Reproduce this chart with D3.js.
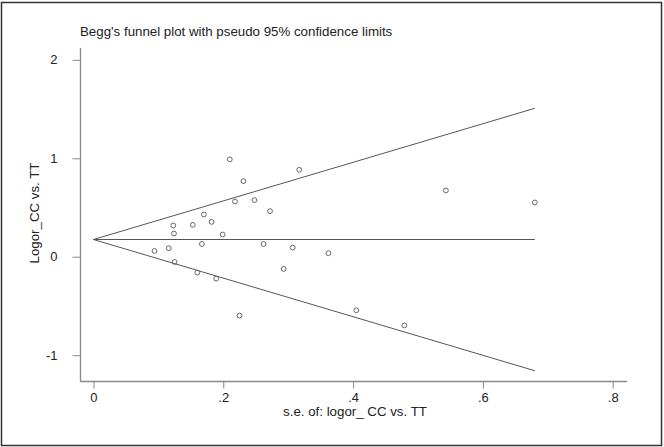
<!DOCTYPE html>
<html>
<head>
<meta charset="utf-8">
<script src="https://cdn.jsdelivr.net/npm/d3@7"></script>
<style>
  body { margin: 0; background: #fff; }
  svg text { font-family: "Liberation Sans", Arial, sans-serif; fill: #222; }
</style>
</head>
<body>
<svg id="chart" width="664" height="447"></svg>
<script>
// standard errors (x) and log odds ratios (y) of the studies
var seValues = [0.210, 0.317, 0.231, 0.218, 0.248, 0.272, 0.170, 0.182, 0.123, 0.153,
                0.124, 0.199, 0.094, 0.116, 0.167, 0.262, 0.307, 0.362, 0.125, 0.160,
                0.189, 0.293, 0.225, 0.543, 0.680, 0.405, 0.479];
var logorValues = [0.989, 0.883, 0.768, 0.561, 0.575, 0.463, 0.429, 0.354, 0.317, 0.324,
                   0.236, 0.226, 0.059, 0.086, 0.130, 0.130, 0.093, 0.036, -0.053, -0.161,
                   -0.222, -0.124, -0.598, 0.673, 0.551, -0.544, -0.697];
var pooled = 0.175;
var maxSe = 0.68;
var xTicks = [0, 0.2, 0.4, 0.6, 0.8];
var yTicks = [-1, 0, 1, 2];

var svg = d3.select("#chart");

// outer frame
svg.append("rect")
  .attr("x", 1.5).attr("y", 2.5)
  .attr("width", 660).attr("height", 443)
  .attr("fill", "none")
  .attr("stroke", "#333")
  .attr("stroke-width", 1.5);

var x = d3.scaleLinear().domain([-0.02, 0.822]).range([80.5, 627]);
var y = d3.scaleLinear().domain([-1.267, 2.12]).range([381.5, 48]);

/* axes */
var xAxis = d3.axisBottom(x).tickValues(xTicks).tickSize(7).tickPadding(4)
  .tickFormat(function (d) { return d === 0 ? "0" : d3.format(".1f")(d).replace(/^0/, ""); });
var yAxis = d3.axisLeft(y).tickValues(yTicks).tickSize(8).tickPadding(15)
  .tickFormat(function (d) { return String(d); });

var gx = svg.append("g")
  .attr("transform", "translate(0," + y.range()[0] + ")")
  .call(xAxis);
var gy = svg.append("g")
  .attr("transform", "translate(" + x.range()[0] + ",0)")
  .call(yAxis);

[gx, gy].forEach(function (g) {
  g.select(".domain").attr("stroke", "#888").attr("stroke-width", 1.3);
  g.selectAll(".tick line").attr("stroke", "#888");
  g.selectAll(".tick text").attr("font-size", 13).attr("fill", "#222")
    .style("font-family", "Liberation Sans, Arial, sans-serif");
});
// plain axis lines without the outer tick caps
gx.select(".domain").attr("d", "M" + x.range()[0] + ",0H" + x.range()[1]);
gy.select(".domain").attr("d", "M0," + y.range()[1] + "V" + y.range()[0]);

/* funnel: pseudo 95% limits and pooled estimate */
var funnel = svg.append("g").attr("stroke", "#555").attr("stroke-width", 1).attr("fill", "none");
var line = d3.line().x(function (d) { return x(d[0]); }).y(function (d) { return y(d[1]); });
funnel.append("path").attr("d", line([[0, pooled], [maxSe, pooled + 1.96 * maxSe]]));
funnel.append("path").attr("d", line([[0, pooled], [maxSe, pooled - 1.96 * maxSe]]));
funnel.append("path").attr("d", line([[0, pooled], [maxSe, pooled]]));

/* study points */
svg.append("g").selectAll("circle")
  .data(seValues.map(function (s, i) { return [s, logorValues[i]]; }))
  .enter().append("circle")
  .attr("cx", function (d) { return x(d[0]); })
  .attr("cy", function (d) { return y(d[1]); })
  .attr("r", 2.4)
  .attr("fill", "none")
  .attr("stroke", "#666")
  .attr("stroke-width", 1);

/* titles */
svg.append("text")
  .attr("x", 80).attr("y", 36)
  .attr("font-size", 13.3)
  .text("Begg's funnel plot with pseudo 95% confidence limits");

svg.append("text")
  .attr("x", 355).attr("y", 416)
  .attr("text-anchor", "middle")
  .attr("font-size", 13.3)
  .text("s.e. of: logor_ CC vs. TT");

svg.append("text")
  .attr("transform", "translate(39,213) rotate(-90)")
  .attr("text-anchor", "middle")
  .attr("font-size", 13.3)
  .text("Logor_CC vs. TT");
</script>
</body>
</html>
